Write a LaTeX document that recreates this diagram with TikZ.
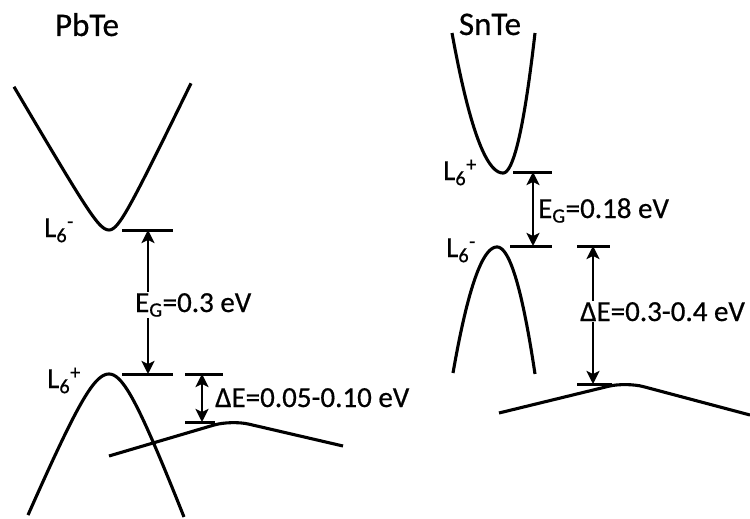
\documentclass[tikz,border=0pt]{standalone}
\usepackage{fontspec}
\setmainfont{Carlito}[FakeBold=1]
\newfontfamily\lblfont{Carlito}[FakeBold=0.6]
\usetikzlibrary{arrows.meta}

\begin{document}
\begin{tikzpicture}[x=1pt, y=-1pt,
  band/.style={line width=3.1pt, line join=round},
  level/.style={line width=3pt},
  gap/.style={<->, line width=2.6pt, >={Stealth[length=13pt,width=13pt,inset=3pt]}},
  lbl/.style={font=\lblfont\fontsize{29}{32}\selectfont, inner sep=1pt},
  title/.style={lbl, font=\lblfont\fontsize{33}{36}\selectfont, anchor=base},
  val/.style={lbl, fill=white, anchor=base west}
]
  \useasboundingbox (0,0) rectangle (750,519);

  % PbTe bands
  \draw[band] plot[domain=-95:0, samples=50] ({109+\x},{230-1.71*(sqrt(144+\x*\x)-12)})
    --plot[domain=0:82, samples=50] ({109+\x},{230-2.07*(sqrt(144+\x*\x)-12)});
  \draw[band] plot[domain=-81:0, samples=50] ({109+\x},{374+2.36*(sqrt(625+\x*\x)-25)})
    --plot[domain=0:75, samples=50] ({109+\x},{374+2.645*(sqrt(625+\x*\x)-25)});
  \draw[band, rounded corners=18pt] (109,456) -- (231,420) -- (343,446);

  % SnTe bands
  \draw[band] plot[domain=-51:0, samples=50] ({503+\x},{173-140*(\x/51)*(\x/51)})
    --plot[domain=0:32, samples=50] ({503+\x},{173-140*(\x/32)*(\x/32)});
  \draw[band] plot[domain=-44:0, samples=50] ({497+\x},{247+126*(\x/44)*(\x/44)})
    --plot[domain=0:38, samples=50] ({497+\x},{247+127*(\x/38)*(\x/38)});
  \draw[band, rounded corners=18pt] (499,413) -- (626,382) -- (750,415);

  % levels
  \coordinate (pbC) at (148,230);
  \coordinate (pbV) at (148,374);
  \coordinate (pbVt) at (202,374);
  \coordinate (pbS) at (202,422);
  \coordinate (snC) at (533,172);
  \coordinate (snV) at (533,246);
  \coordinate (snVt) at (593,246);
  \coordinate (snS) at (593,384);

  \draw[level] (122,230) -- (173,230);
  \draw[level] (122,374) -- (173,374);
  \draw[level] (185,374) -- (223,374);
  \draw[level] (185,422) -- (215,422);
  \draw[level] (513,172) -- (552,172);
  \draw[level] (510,246) -- (552,246);
  \draw[level] (577,246) -- (610,246);
  \draw[level] (577,384) -- (612,384);

  \draw[gap] (pbC) -- (pbV);
  \draw[gap] (pbVt) -- (pbS);
  \draw[gap] (snC) -- (snV);
  \draw[gap] (snVt) -- (snS);

  % labels
  \node[title] (pbname) at (87,36) {PbTe};
  \node[title] (snname) at (490,35) {SnTe};
  \node[lbl, anchor=base west] (pbLm) at (43,237) {L\textsubscript{6}\textsuperscript{-}};
  \node[lbl, anchor=base west] (pbLp) at (46,388) {L\textsubscript{6}\textsuperscript{+}};
  \node[lbl, anchor=base west] (snLp) at (442,180) {L\textsubscript{6}\textsuperscript{+}};
  \node[lbl, anchor=base west] (snLm) at (445,257) {L\textsubscript{6}\textsuperscript{-}};

  \node[val] (pbEG) at (134,312) {E\textsubscript{G}=0.3 eV};
  \node[lbl, anchor=base west] (pbdE) at (214,407) {ΔE=0.05-0.10 eV};
  \node[lbl, anchor=base west] (snEG) at (537,218) {E\textsubscript{G}=0.18 eV};
  \node[val] (sndE) at (579,321) {ΔE=0.3-0.4 eV};
\end{tikzpicture}
\end{document}
